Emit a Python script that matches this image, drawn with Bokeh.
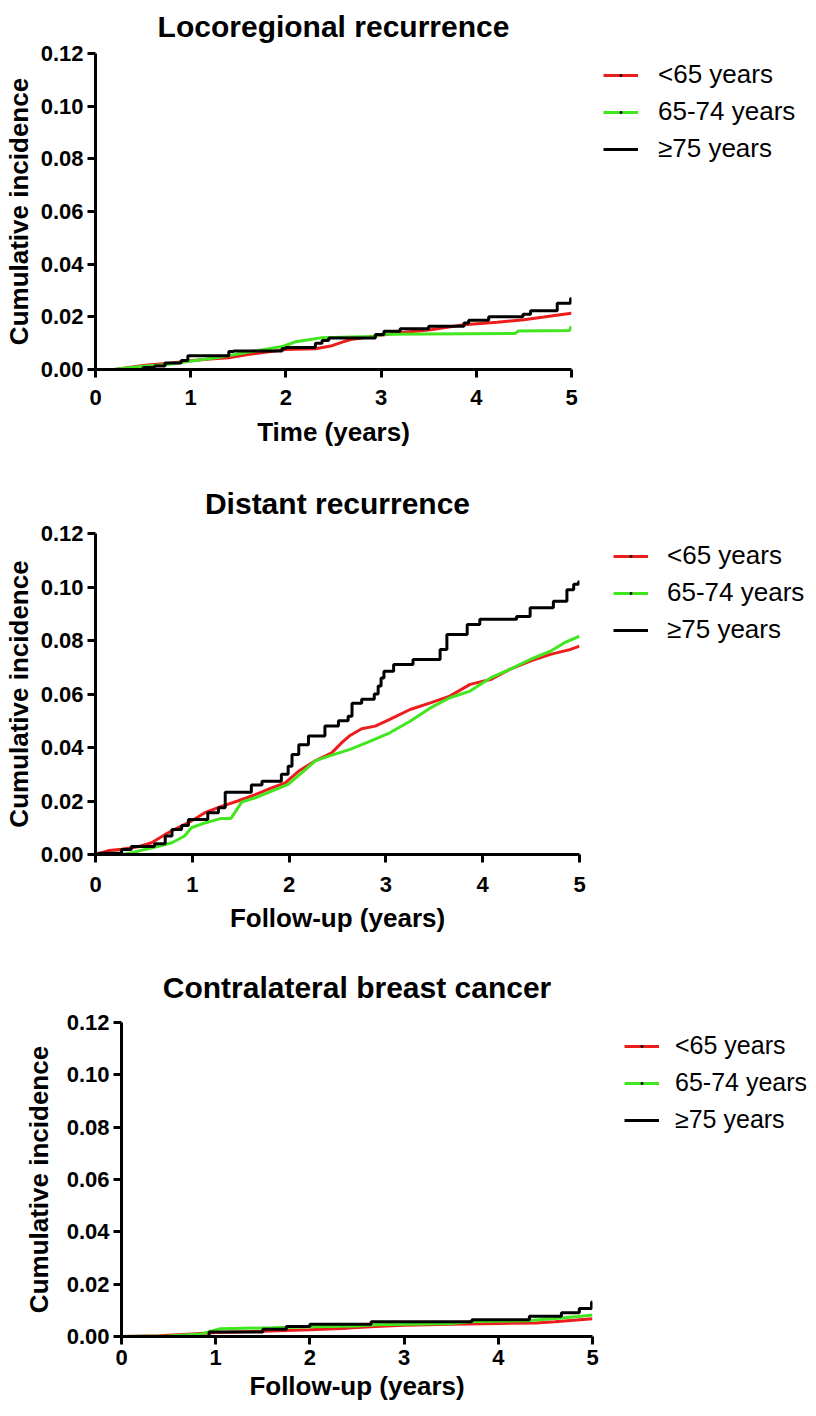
from bokeh.plotting import figure
from bokeh.models import Legend, LegendItem, FixedTicker, PrintfTickFormatter, Range1d
from bokeh.embed import file_html
from bokeh.resources import INLINE

# ---------------- data ----------------
series_labels = ["<65 years", "65-74 years", "\u226575 years"]
x_ticks = [0, 1, 2, 3, 4, 5]
y_ticks = [0.00, 0.02, 0.04, 0.06, 0.08, 0.10, 0.12]

titles = ["Locoregional recurrence", "Distant recurrence", "Contralateral breast cancer"]
x_labels = ["Time (years)", "Follow-up (years)", "Follow-up (years)"]
y_label = "Cumulative incidence"

# Panel 1: locoregional recurrence
loco_lt65_t = [0, 0.2, 0.35, 0.5, 0.65, 0.8, 1.0, 1.2, 1.4, 1.6, 1.8, 2.0, 2.31, 2.47, 2.6, 2.68,
               2.92, 3.17, 3.52, 3.87, 4.22, 4.5, 4.71, 4.92, 5.0]
loco_lt65_v = [0, 0, 0.0008, 0.0015, 0.002, 0.0025, 0.0033, 0.004, 0.0045, 0.0057, 0.0066, 0.0076,
               0.0079, 0.0089, 0.0105, 0.0114, 0.0126, 0.0139, 0.0151, 0.017, 0.0179, 0.0189,
               0.0199, 0.021, 0.0214]
loco_6574_t = [0, 0.19, 0.5, 0.73, 0.97, 1.3, 1.64, 1.96, 2.03, 2.1, 2.24, 2.38, 2.9, 3.03, 4.41,
               4.44, 4.98, 4.99, 5.0]
loco_6574_v = [0, 0, 0.0012, 0.0018, 0.003, 0.0046, 0.0068, 0.0087, 0.0096, 0.0105, 0.0113, 0.0121,
               0.0125, 0.0134, 0.0137, 0.0146, 0.0148, 0.016, 0.016]
loco_ge75_t = [0, 0.5, 0.62, 0.73, 0.9, 0.97, 1.4, 1.45, 1.96, 2.0, 2.31, 2.38, 2.45, 2.94, 3.03,
               3.2, 3.5, 3.87, 3.92, 4.13, 4.49, 4.57, 4.85, 4.99, 5.0]
loco_ge75_v = [0, 0.0008, 0.0013, 0.0025, 0.0034, 0.0052, 0.0068, 0.007, 0.008, 0.0084, 0.01, 0.011,
               0.012, 0.0133, 0.0145, 0.0155, 0.0164, 0.0177, 0.0187, 0.02, 0.021, 0.0223, 0.0252,
               0.027, 0.027]

# Panel 2: distant recurrence
dist_lt65_t = [0, 0.05, 0.14, 0.27, 0.44, 0.58, 0.72, 0.85, 0.99, 1.13, 1.3, 1.47, 1.65, 1.82, 1.96,
               2.1, 2.27, 2.44, 2.55, 2.63, 2.75, 2.89, 3.04, 3.25, 3.46, 3.66, 3.87, 4.08, 4.28,
               4.49, 4.7, 4.9, 5.0]
dist_lt65_v = [0, 0.0005, 0.0015, 0.002, 0.0029, 0.0044, 0.0075, 0.010, 0.0125, 0.0156, 0.018, 0.020,
               0.0224, 0.0249, 0.0268, 0.0312, 0.035, 0.038, 0.042, 0.0445, 0.047, 0.048, 0.0505,
               0.0542, 0.0567, 0.0592, 0.0636, 0.0654, 0.0692, 0.0723, 0.0748, 0.0766, 0.0779]
dist_6574_t = [0, 0.27, 0.37, 0.51, 0.65, 0.79, 0.92, 0.99, 1.13, 1.3, 1.4, 1.51, 1.65, 1.82, 1.99,
               2.13, 2.27, 2.41, 2.63, 2.84, 3.04, 3.25, 3.46, 3.66, 3.87, 4.08, 4.28, 4.49, 4.7,
               4.84, 5.0]
dist_6574_v = [0, 0, 0.0006, 0.0019, 0.0031, 0.0044, 0.0069, 0.010, 0.0118, 0.0135, 0.0135, 0.0196,
               0.0212, 0.0237, 0.0262, 0.0305, 0.035, 0.0368, 0.0393, 0.0424, 0.0455, 0.0498,
               0.0548, 0.0586, 0.0611, 0.066, 0.0692, 0.0729, 0.076, 0.0791, 0.0816]
dist_ge75_t = [0, 0.03, 0.27, 0.37, 0.61, 0.72, 0.79, 0.89, 0.96, 1.16, 1.27, 1.34, 1.61, 1.72, 1.92,
               1.99, 2.03, 2.1, 2.2, 2.37, 2.51, 2.61, 2.65, 2.75, 2.88, 2.92, 2.95, 2.98, 3.08,
               3.28, 3.56, 3.63, 3.84, 3.97, 4.35, 4.49, 4.73, 4.87, 4.94, 4.99, 5.0]
dist_ge75_v = [0, 0.0005, 0.0019, 0.003, 0.004, 0.0069, 0.0093, 0.0108, 0.0131, 0.0156, 0.0175,
               0.0233, 0.026, 0.0274, 0.030, 0.033, 0.0374, 0.041, 0.0443, 0.048, 0.050, 0.0517,
               0.0565, 0.058, 0.060, 0.063, 0.066, 0.0685, 0.071, 0.0729, 0.0766, 0.0822, 0.086,
               0.0879, 0.089, 0.0922, 0.0947, 0.099, 0.101, 0.102, 0.102]

# Panel 3: contralateral breast cancer
cbc_lt65_t = [0, 0.4, 0.6, 0.75, 1.0, 1.5, 2.0, 2.4, 2.7, 3.0, 3.5, 4.0, 4.4, 4.6, 4.8, 5.0]
cbc_lt65_v = [0, 0.0003, 0.0007, 0.001, 0.0015, 0.002, 0.0026, 0.0032, 0.0038, 0.0043, 0.0047,
              0.005, 0.0052, 0.0056, 0.0062, 0.0068]
cbc_6574_t = [0, 0.5, 0.85, 0.95, 1.05, 1.6, 2.0, 2.5, 2.7, 3.5, 3.75, 4.3, 4.5, 4.7, 4.85, 5.0]
cbc_6574_v = [0, 0.0002, 0.001, 0.002, 0.003, 0.0033, 0.0037, 0.004, 0.0045, 0.005, 0.0057, 0.006,
              0.0066, 0.0072, 0.0076, 0.0082]
cbc_ge75_t = [0, 0.93, 1.5, 1.75, 2.0, 2.65, 3.72, 4.33, 4.67, 4.86, 4.99, 5.0]
cbc_ge75_v = [0, 0.0017, 0.0028, 0.0038, 0.0047, 0.0056, 0.0064, 0.0077, 0.0091, 0.0107, 0.0132,
              0.0132]

# ---------------- style ----------------
FONT = "Liberation Sans"
COLORS = ["#ee1d1d", "#41e61e", "#000000"]

panels = [
    dict(curves=[(loco_lt65_t, loco_lt65_v, "line"), (loco_6574_t, loco_6574_v, "line"),
                 (loco_ge75_t, loco_ge75_v, "step")],
         left=95, top=46, fw=476, fh=316, h=462, leg=(32, 205), lfs="26px", lst=20, lsp=6,
         tstand=18, tva="top", ylst=4, xlst=9, xmst=12),
    dict(curves=[(dist_lt65_t, dist_lt65_v, "line"), (dist_6574_t, dist_6574_v, "line"),
                 (dist_ge75_t, dist_ge75_v, "step")],
         left=95, top=64, fw=484, fh=321, h=480, leg=(34, 209), lfs="26px", lst=19, lsp=6,
         tstand=27, tva="bottom", ylst=4, xlst=8, xmst=14),
    dict(curves=[(cbc_lt65_t, cbc_lt65_v, "line"), (cbc_6574_t, cbc_6574_v, "line"),
                 (cbc_ge75_t, cbc_ge75_v, "step")],
         left=121, top=73, fw=471, fh=314, h=458, leg=(32, 202), lfs="25px", lst=16, lsp=8,
         tstand=38, tva="bottom", ylst=10, xlst=3, xmst=5),
]

figs = []
for i, cfg in enumerate(panels):
    p = figure(frame_width=cfg["fw"], frame_height=cfg["fh"],
               min_border_left=cfg["left"], min_border_top=cfg["top"],
               min_border_right=800 - cfg["left"] - cfg["fw"],
               min_border_bottom=cfg["h"] - cfg["top"] - cfg["fh"],
               x_range=Range1d(0, 5), y_range=Range1d(0, 0.12),
               output_backend="svg", toolbar_location=None, title=titles[i])
    p.outline_line_color = None
    p.grid.visible = False
    p.background_fill_color = "white"
    p.border_fill_color = "white"

    p.title.text_font = FONT
    p.title.text_font_size = "30px"
    p.title.text_font_style = "bold"
    p.title.text_color = "black"
    p.title.align = "center"
    p.title.vertical_align = cfg["tva"]
    p.title.standoff = cfg["tstand"]

    for ax in (p.xaxis[0], p.yaxis[0]):
        ax.axis_line_width = 3
        ax.axis_line_color = "black"
        ax.major_tick_line_width = 3
        ax.major_tick_line_color = "black"
        ax.major_tick_out = 8
        ax.major_tick_in = 0
        ax.minor_tick_line_color = None
        ax.major_label_text_font = FONT
        ax.major_label_text_font_size = "22px"
        ax.major_label_text_font_style = "bold"
        ax.major_label_text_color = "black"
        ax.axis_label_text_font = FONT
        ax.axis_label_text_font_size = "26px"
        ax.axis_label_text_font_style = "bold"
        ax.axis_label_text_color = "black"

    p.xaxis.ticker = FixedTicker(ticks=x_ticks)
    p.yaxis.ticker = FixedTicker(ticks=y_ticks)
    p.yaxis.formatter = PrintfTickFormatter(format="%.2f")
    p.xaxis.axis_label = x_labels[i]
    p.yaxis.axis_label = y_label
    p.yaxis.major_label_standoff = 4
    p.yaxis.axis_label_standoff = cfg["ylst"]
    p.xaxis.major_label_standoff = cfg["xmst"]
    p.xaxis.axis_label_standoff = cfg["xlst"]

    items = []
    for (t, v, kind), color, label in zip(cfg["curves"], COLORS, series_labels):
        if kind == "step":
            r = p.step(t, v, mode="after", line_color=color, line_width=3)
        else:
            r = p.line(t, v, line_color=color, line_width=3)
        # Prism-style tiny symbol: invisible on the curve, shows as a dot in the legend
        d = p.scatter(t, v, marker="dot", size=0.1, line_color="black", fill_color="black")
        items.append(LegendItem(label=label, renderers=[r, d]))

    leg = Legend(items=items, location=cfg["leg"], orientation="vertical",
                 glyph_width=35, glyph_height=28, label_height=28, label_standoff=cfg["lst"],
                 spacing=cfg["lsp"], padding=0, margin=0,
                 border_line_color=None, background_fill_alpha=0,
                 label_text_font=FONT, label_text_font_size=cfg["lfs"], label_text_color="black")
    p.add_layout(leg, "right")
    figs.append(p)

open("out.html", "w").write(file_html(figs, INLINE))
